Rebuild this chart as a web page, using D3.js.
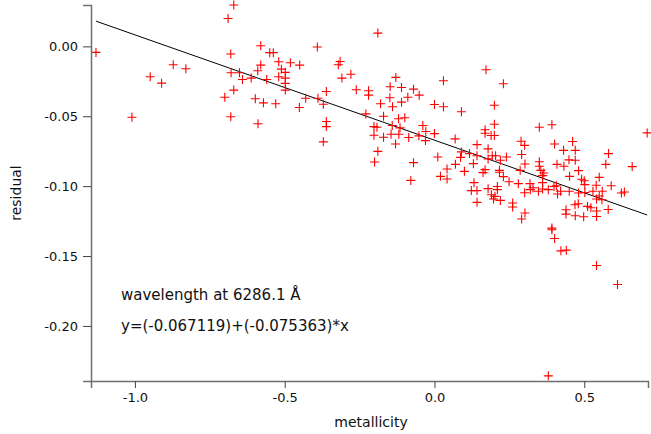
<!DOCTYPE html>
<html>
<head>
<meta charset="utf-8">
<script src="https://cdn.jsdelivr.net/npm/d3@7"></script>
<style>
html,body{margin:0;padding:0;background:#fff;}
svg{display:block;}
text{font-family:"DejaVu Sans","Noto Sans",sans-serif;}
</style>
</head>
<body>
<svg id="chart" width="651" height="434"></svg>
<script>
// metallicity values
const metallicity = [
-1.130,-0.949,-0.911,-0.872,-0.830,-1.010,-0.670,-0.689,-0.189,-0.580,
-0.391,-0.680,-0.550,-0.538,-0.520,-0.481,-0.450,-0.580,-0.590,-0.511,
-0.498,-0.679,-0.651,-0.641,-0.612,-0.560,-0.520,-0.498,-0.498,-0.498,
-0.670,-0.700,-0.598,-0.571,-0.530,-0.430,-0.389,-0.371,-0.361,-0.451,
-0.680,-0.589,-0.361,-0.361,-0.315,-0.321,-0.309,-0.279,-0.261,-0.220,
-0.220,-0.129,-0.148,-0.110,-0.070,-0.051,-0.149,-0.089,-0.110,-0.180,
-0.140,-0.229,-0.170,-0.120,-0.099,-0.202,-0.192,-0.141,-0.115,-0.202,
-0.170,-0.145,-0.119,-0.086,-0.052,0.172,0.030,0.230,0.000,0.030,
0.090,0.200,-0.039,-0.029,0.000,0.169,0.169,0.200,0.189,0.200,
0.350,0.392,0.710,0.069,-0.030,0.142,0.289,0.301,0.401,0.461,
0.179,0.431,0.470,0.090,0.117,0.142,0.011,0.087,0.193,0.204,
0.240,0.291,0.581,0.449,0.470,0.179,0.220,0.070,0.130,0.302,
0.350,0.350,0.409,0.432,0.572,0.660,0.042,0.169,0.162,0.217,
0.217,0.286,0.355,0.365,0.481,0.100,0.020,0.042,0.230,0.361,
0.451,0.491,0.550,0.132,0.249,0.280,0.319,0.329,0.361,0.407,
0.500,0.502,0.540,0.123,0.142,0.179,0.210,0.210,0.301,0.320,
0.347,0.361,0.380,0.399,0.411,0.421,0.450,0.481,0.502,0.529,
0.560,0.590,0.624,0.634,0.190,0.202,0.197,0.220,0.142,0.261,
0.261,0.550,0.541,0.559,0.469,0.480,0.511,0.522,0.439,0.541,
0.580,0.302,0.291,0.439,0.470,0.498,0.541,0.392,0.392,0.401,
0.422,0.440,0.541,-0.130,-0.371,-0.189,-0.200,-0.070,-0.079,0.611,
0.380
];
// residual values
const residual = [
-0.0043,-0.0217,-0.0263,-0.0131,-0.0160,-0.0507,0.0296,0.0199,0.0095,0.0005,
-0.0005,-0.0055,-0.0045,-0.0045,-0.0110,-0.0117,-0.0134,-0.0134,-0.0174,-0.0163,
-0.0186,-0.0189,-0.0189,-0.0237,-0.0227,-0.0237,-0.0217,-0.0227,-0.0265,-0.0313,
-0.0313,-0.0364,-0.0375,-0.0404,-0.0411,-0.0371,-0.0371,-0.0414,-0.0323,-0.0437,
-0.0504,-0.0554,-0.0538,-0.0574,-0.0108,-0.0131,-0.0227,-0.0199,-0.0310,-0.0318,
-0.0349,-0.0222,-0.0289,-0.0294,-0.0306,-0.0349,-0.0368,-0.0364,-0.0399,-0.0411,
-0.0432,-0.0483,-0.0500,-0.0518,-0.0511,-0.0574,-0.0579,-0.0566,-0.0583,-0.0636,
-0.0650,-0.0629,-0.0629,-0.0652,-0.0640,-0.0167,-0.0246,-0.0267,-0.0416,-0.0432,
-0.0468,-0.0421,-0.0566,-0.0609,-0.0624,-0.0597,-0.0622,-0.0557,-0.0638,-0.0638,
-0.0579,-0.0561,-0.0619,-0.0662,-0.0674,-0.0703,-0.0679,-0.0708,-0.0698,-0.0681,
-0.0733,-0.0744,-0.0744,-0.0755,-0.0767,-0.0782,-0.0791,-0.0794,-0.0782,-0.0782,
-0.0791,-0.0774,-0.0767,-0.0812,-0.0815,-0.0805,-0.0815,-0.0844,-0.0839,-0.0841,
-0.0825,-0.0858,-0.0844,-0.0858,-0.0844,-0.0860,-0.0877,-0.0882,-0.0903,-0.0887,
-0.0901,-0.0887,-0.0887,-0.0906,-0.0889,-0.0894,-0.0930,-0.0949,-0.0932,-0.0925,
-0.0930,-0.0951,-0.0937,-0.0975,-0.0968,-0.0982,-0.0982,-0.1011,-0.0975,-0.0997,
-0.0961,-0.0989,-0.0994,-0.1032,-0.1032,-0.1018,-0.1002,-0.1025,-0.1047,-0.1025,
-0.1037,-0.1020,-0.1025,-0.1002,-0.1056,-0.1037,-0.1037,-0.1049,-0.1045,-0.1037,
-0.1037,-0.0997,-0.1049,-0.1042,-0.1061,-0.1073,-0.1092,-0.1102,-0.1116,-0.1121,
-0.1149,-0.1070,-0.1092,-0.1097,-0.1133,-0.1126,-0.1145,-0.1154,-0.1169,-0.1178,
-0.1167,-0.1192,-0.1235,-0.1200,-0.1212,-0.1219,-0.1217,-0.1300,-0.1312,-0.1375,
-0.1463,-0.1458,-0.1568,-0.0698,-0.0683,-0.0751,-0.0827,-0.0832,-0.0959,-0.1704,
-0.2357
];
// fit coefficients
const fitIntercept = -0.067119;
const fitSlope = -0.075363;
// tick labels
const xTicks = [-1.0, -0.5, 0.0, 0.5];
const yTicks = [0.00, -0.05, -0.10, -0.15, -0.20];
const xDomain = [-1.1466, 0.7128];
const yDomain = [-0.2394, 0.0296];
const xLabel = "metallicity";
const yLabel = "residual";
const annotations = ["wavelength at 6286.1 Å", "y=(-0.067119)+(-0.075363)*x"];

const svg = d3.select("#chart");
const x = d3.scaleLinear().domain(xDomain).range([91, 648]);
const y = d3.scaleLinear().domain(yDomain).range([381, 5]);

const data = metallicity.map((m, i) => ({x: m, y: residual[i]}));

// regression line
const ext = d3.extent(metallicity);
const lineData = ext.map(v => ({x: v, y: fitIntercept + fitSlope * v}));
svg.append("path")
  .datum(lineData)
  .attr("fill", "none")
  .attr("stroke", "#000")
  .attr("stroke-width", 1)
  .attr("d", d3.line().x(d => x(d.x)).y(d => y(d.y)));

// markers
const s = 4.5;
svg.append("g").selectAll("path").data(data).join("path")
  .attr("d", d => {
    const px = x(d.x), py = y(d.y);
    return `M${px - s},${py}H${px + s}M${px},${py - s}V${py + s}`;
  })
  .attr("stroke", "#ff0000")
  .attr("stroke-width", 1.1)
  .attr("fill", "none");

const fmtMinus = f => v => f(v).replace("\u2212", "-");

// axes
const xAxis = svg.append("g").attr("transform", "translate(0,381)")
  .call(d3.axisBottom(x).tickValues(xTicks).tickFormat(fmtMinus(d3.format(".1f"))).tickSizeOuter(0).tickSize(7).tickPadding(5));
const yAxis = svg.append("g").attr("transform", "translate(91,0)")
  .call(d3.axisLeft(y).tickValues(yTicks).tickFormat(fmtMinus(d3.format(".2f"))).tickSizeOuter(0).tickSize(8).tickPadding(5));
[xAxis, yAxis].forEach(g => {
  g.select(".domain").attr("stroke", "#6e6e6e").attr("stroke-width", 1.5);
  g.selectAll(".tick line").attr("stroke", "#444").attr("stroke-width", 1);
  g.selectAll(".tick text").attr("font-size", 13).attr("fill", "#111")
    .attr("font-family", "DejaVu Sans, sans-serif");
});

svg.append("text").attr("x", 371).attr("y", 427).attr("text-anchor", "middle")
  .attr("font-size", 14).attr("fill", "#111").text(xLabel);
svg.append("text").attr("transform", "translate(21,193) rotate(-90)")
  .attr("text-anchor", "middle").attr("font-size", 14).attr("fill", "#111").text(yLabel);

svg.selectAll(".annot").data(annotations).join("text")
  .attr("class", "annot")
  .attr("x", 121)
  .attr("y", (d, i) => 300 + i * 31)
  .attr("font-size", 15)
  .attr("fill", "#111")
  .text(d => d);
</script>
</body>
</html>
